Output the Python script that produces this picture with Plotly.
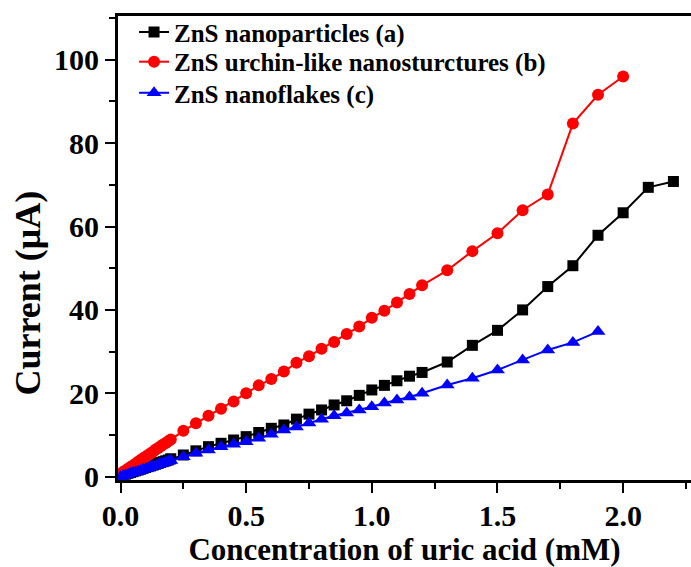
import plotly.graph_objects as go

# Uric acid concentration (mM)
conc_a = [0.00, 0.01, 0.02, 0.03, 0.04, 0.05, 0.06, 0.07, 0.08, 0.09, 0.10,
          0.11, 0.12, 0.13, 0.14, 0.15, 0.16, 0.17, 0.18, 0.19, 0.20,
          0.25, 0.30, 0.35, 0.40, 0.45, 0.50, 0.55, 0.60, 0.65, 0.70,
          0.75, 0.80, 0.85, 0.90, 0.95, 1.00, 1.05, 1.10, 1.15, 1.20,
          1.3, 1.4, 1.5, 1.6, 1.7, 1.8, 1.9, 2.0, 2.1, 2.2]
conc_b = conc_a[:-2]
conc_c = conc_a[:-3]

# Current response (uA)
current_a = [0.2, 0.4, 0.6, 0.8, 1.0, 1.2, 1.4, 1.6, 1.8, 2.0, 2.2,
             2.4, 2.6, 2.8, 3.0, 3.2, 3.4, 3.6, 3.8, 4.0, 4.3,
             5.2, 6.2, 7.2, 8.0, 8.8, 9.6, 10.6, 11.6, 12.4, 13.8,
             15.0, 16.0, 17.2, 18.2, 19.5, 20.8, 21.9, 23.0, 24.1, 25.0,
             27.5, 31.5, 35.1, 40.0, 45.6, 50.6, 57.9, 63.3, 69.4, 70.8]
current_b = [0.6, 1.1, 1.5, 1.9, 2.3, 2.7, 3.1, 3.6, 4.0, 4.4, 4.8,
             5.2, 5.6, 6.0, 6.5, 6.9, 7.3, 7.7, 8.1, 8.5, 8.9,
             11.0, 12.8, 14.6, 16.3, 18.0, 20.0, 21.9, 23.4, 25.2, 27.3,
             28.9, 30.7, 32.3, 34.2, 36.0, 38.1, 39.8, 41.8, 43.8, 45.9,
             49.5, 54.1, 58.4, 63.9, 67.7, 84.7, 91.6, 96.0]
current_c = [0.0, 0.2, 0.4, 0.6, 0.8, 1.0, 1.1, 1.3, 1.5, 1.7, 1.9,
             2.1, 2.3, 2.5, 2.7, 2.9, 3.1, 3.3, 3.5, 3.7, 3.9,
             4.8, 5.6, 6.4, 7.2, 7.8, 8.4, 9.2, 10.2, 11.2, 11.9,
             12.9, 13.8, 14.6, 15.3, 16.0, 16.8, 17.7, 18.4, 19.1, 20.0,
             22.0, 23.6, 25.6, 28.0, 30.4, 32.2, 34.8]

names = ["ZnS nanoparticles (a)",
         "ZnS urchin-like nanosturctures (b)",
         "ZnS nanoflakes (c)"]

x_ticks = [0.0, 0.5, 1.0, 1.5, 2.0]
x_ticktext = ["0.0", "0.5", "1.0", "1.5", "2.0"]
y_ticks = [0, 20, 40, 60, 80, 100]

FONT = "Liberation Serif"
LEGEND_FONT = dict(family=FONT, size=25, color="black", weight="bold")

series = [
    (conc_a, current_a, names[0], "#000000", "square", 11, "legend"),
    (conc_b, current_b, names[1], "#ff0000", "circle", 12, "legend2"),
    (conc_c, current_c, names[2], "#0000ff", "triangle-up", 13, "legend3"),
]

fig = go.Figure()
for xs, ys, name, color, symbol, size, leg in series:
    fig.add_trace(go.Scatter(
        x=xs, y=ys, name=name, mode="lines+markers", legend=leg,
        line=dict(color=color, width=2),
        marker=dict(symbol=symbol, size=size, color=color, line=dict(width=0)),
    ))

axis_common = dict(
    showline=True, linecolor="black", linewidth=3,
    ticks="outside", ticklen=10, tickwidth=2, tickcolor="black",
    showgrid=False, zeroline=False,
    tickfont=dict(family=FONT, size=30, color="black", weight="bold"),
)


def legend_box(ypos):
    return dict(x=0.028, y=ypos, xanchor="left", yanchor="middle",
                bgcolor="rgba(0,0,0,0)", font=LEGEND_FONT)


fig.update_layout(
    width=691, height=567,
    margin=dict(l=118, r=0, t=16, b=87),
    plot_bgcolor="white", paper_bgcolor="white",
    showlegend=True,
    legend=legend_box(0.965),
    legend2=legend_box(0.901),
    legend3=legend_box(0.834),
    xaxis=dict(
        range=[-0.01, 2.27],
        tickvals=x_ticks, ticktext=x_ticktext,
        ticklabelstandoff=-3,
        mirror=True,
        minor=dict(dtick=0.25, tick0=0, ticks="outside", ticklen=6,
                   tickwidth=2, tickcolor="black"),
        title=dict(text="Concentration of uric acid (mM)", standoff=11,
                   font=dict(family=FONT, size=31, color="black", weight="bold")),
        **axis_common,
    ),
    yaxis=dict(
        range=[-0.8, 110.5],
        tickvals=y_ticks,
        minor=dict(dtick=10, tick0=0, ticks="outside", ticklen=6,
                   tickwidth=2, tickcolor="black"),
        **axis_common,
    ),
    annotations=[dict(
        text="Current (μA)", textangle=-90,
        xref="paper", yref="paper",
        x=-0.157, y=0.402, xanchor="center", yanchor="middle",
        showarrow=False,
        font=dict(family=FONT, size=36, color="black", weight="bold"),
    )],
)

fig.write_html("out.html")
